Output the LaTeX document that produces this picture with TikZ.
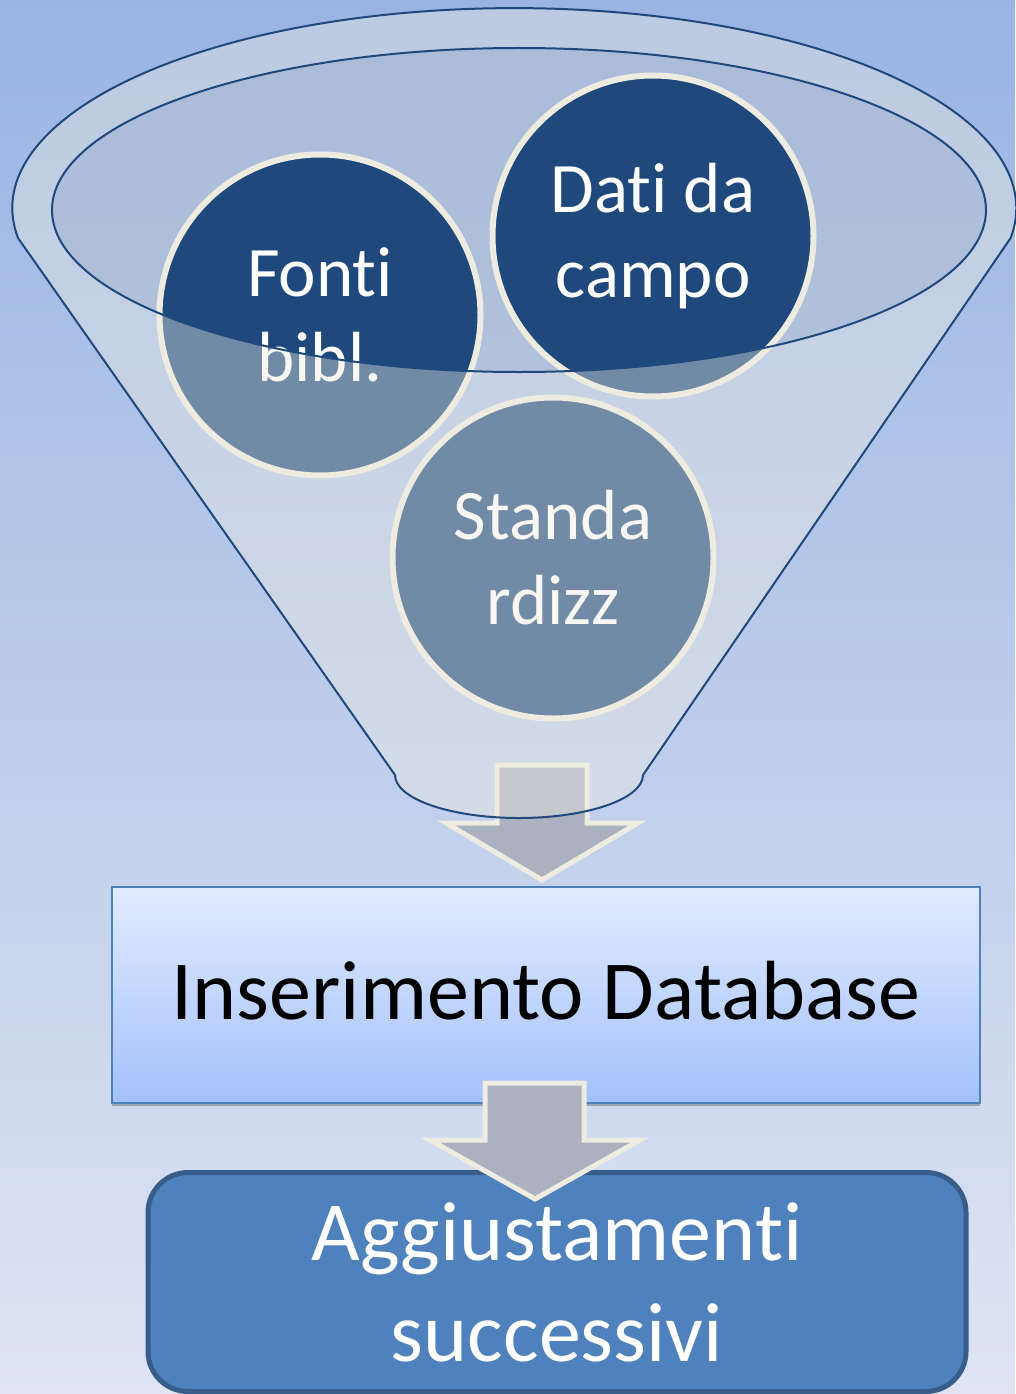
\documentclass[tikz,border=0pt]{standalone}
\usepackage{fontspec}
\setmainfont{Carlito}
\usetikzlibrary{shadows}
\definecolor{bgtop}{HTML}{99B4E3}
\definecolor{bgbot}{HTML}{DEE4F2}
\definecolor{navy}{HTML}{1F497D}
\definecolor{cream}{HTML}{EEECE1}
\definecolor{mouth}{HTML}{B8C2D0}
\definecolor{slate}{HTML}{ABB1BF}
\definecolor{steel}{HTML}{4F81BD}
\definecolor{steeldark}{HTML}{385D8A}
\definecolor{dbtop}{HTML}{E1EBFF}
\definecolor{dbbot}{HTML}{A3C1FA}
\newcommand{\circfont}{\fontsize{71}{85}\selectfont}
\newcommand{\boxfont}{\fontsize{84}{101}\selectfont}
\newcommand{\tnoi}{t\kern0pt i}

\begin{document}
\begin{tikzpicture}[x=1pt,y=-1pt,
  bubble/.style={circle,fill=navy,draw=cream,line width=6pt,minimum size=321pt,
    inner sep=0pt,text=white,align=center,font=\circfont},
  blockarw/.style={fill=slate,draw=cream,line width=5pt,line join=miter}]
\useasboundingbox (0,0) rectangle (1015,1394);
%background
\fill[top color=bgtop,bottom color=bgbot] (0,0) rectangle (1015,1394);
%mouth of the funnel
\fill[mouth,opacity=0.5] (519,210) ellipse [x radius=467,y radius=162];
%inputs
\node[bubble] (fonti) at (320,315) {Fon\tnoi\\bibl.};
\node[bubble] (dati) at (653,236) {Da\tnoi{} da\\campo};
\node[bubble] (std) at (553,558) {Standa\\rdizz};
%arrow out of the funnel
\draw[blockarw] (542,880) -- (446,823) -- (497,823) -- (497,765)
  -- (587,765) -- (587,823) -- (638,823) -- cycle;
%funnel body
\fill[cream,opacity=0.4,even odd rule]
  (18,238) arc[start angle=171.4,end angle=368.6,x radius=502,y radius=200]
  -- (643,775) arc[start angle=0,end angle=180,x radius=124,y radius=43] -- cycle
  (519,210) ellipse [x radius=467,y radius=162];
\draw[navy,line width=2pt]
  (18,238) arc[start angle=171.4,end angle=368.6,x radius=502,y radius=200]
  -- (643,775) arc[start angle=0,end angle=180,x radius=124,y radius=43] -- cycle;
\draw[navy,line width=2pt] (519,210) ellipse [x radius=467,y radius=162];
%database
\node[draw=steel,line width=1.5pt,top color=dbtop,bottom color=dbbot,
  minimum width=868pt,minimum height=216pt,
  drop shadow={shadow xshift=0pt,shadow yshift=-3pt,opacity=0.25,fill=black}]
  (db) at (546,995) {};
\node[font=\boxfont] (dblabel) at (546,991) {Inserimento Database};
%adjustments
\node[draw=steeldark,fill=steel,line width=5pt,rounded corners=40pt,
  minimum width=818pt,minimum height=219pt,text=white,align=center,font=\boxfont]
  (agg) at (557,1282) {Aggiustamen\tnoi\\successivi};
\draw[blockarw] (535,1199) -- (430,1140) -- (485,1140) -- (485,1083)
  -- (584,1083) -- (584,1140) -- (640,1140) -- cycle;
\end{tikzpicture}
\end{document}
